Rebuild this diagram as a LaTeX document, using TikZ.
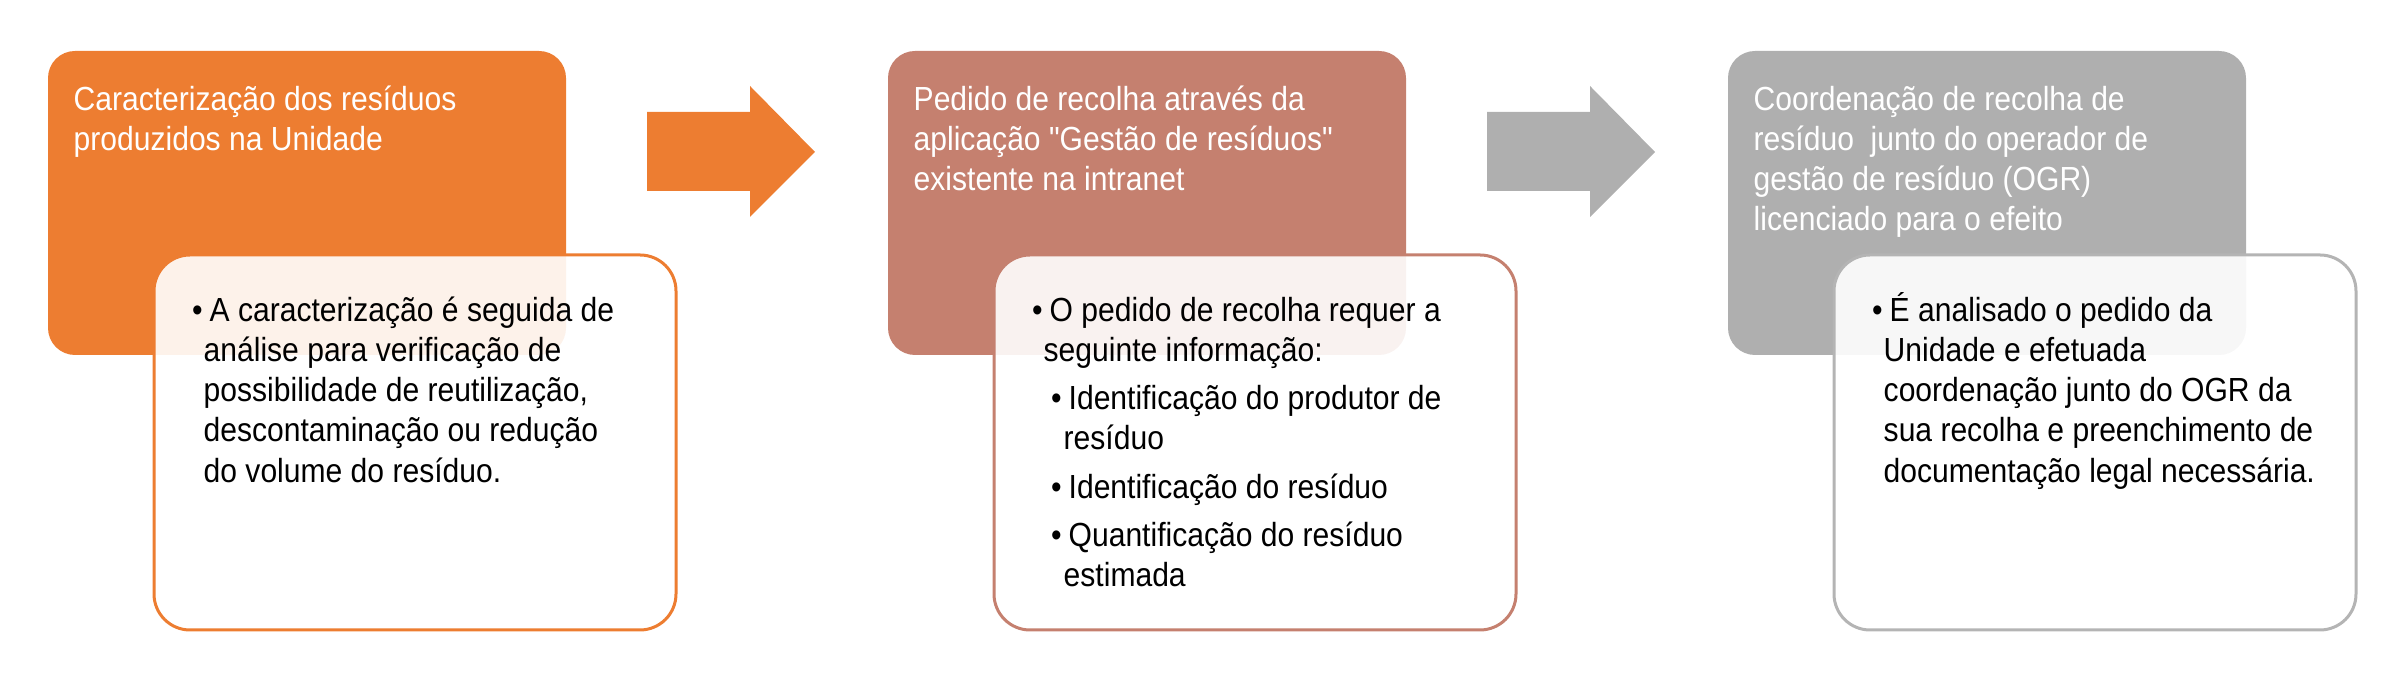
\documentclass[tikz,border=0pt]{standalone}
\usepackage{fontspec}
\setmainfont{Liberation Sans}[FakeStretch=0.9, Ligatures=TeXOff]
\usepackage{xcolor}
\usepackage{tikz}
\usetikzlibrary{positioning}

\definecolor{passoA}{HTML}{ED7D31}
\definecolor{passoB}{HTML}{C5806F}
\definecolor{passoC}{HTML}{AFAFAF}
\definecolor{notaC}{HTML}{B4B4B4}

\newcommand{\alto}{\rule{0pt}{0.32cm}}
\newcommand{\marca}{\llap{\textbullet\hspace{0.01cm}}\hspace*{0.06cm}}

\begin{document}
\begin{tikzpicture}[x=0.01cm, y=-0.01cm,
			titulo/.style={anchor=north west, inner sep=0pt, align=left, text=white,
				font=\fontsize{9.5}{11.4}\selectfont},
			corpo/.style={anchor=north west, inner sep=0pt, align=left, text=black,
				font=\fontsize{9.5}{11.4}\selectfont},
			caixa/.style={rounded corners=0.27cm},
			nota/.style={rounded corners=0.36cm, fill=white, fill opacity=0.9, line width=0.03cm}]

			\useasboundingbox (0,0) rectangle (2399,674);

			\fill[passoA, caixa] (48,51) rectangle (566,355);
			\draw[passoA, nota] (154,255) rectangle (676,630);
			\fill[passoA] (647,112) -- (750,112) -- (750,86) -- (815,152) -- (750,217) -- (750,191) -- (647,191) -- cycle;

			\fill[passoB, caixa] (888,51) rectangle (1406,355);
			\draw[passoB, nota] (994,255) rectangle (1516,630);
			\fill[passoC] (1487,112) -- (1590,112) -- (1590,86) -- (1655,152) -- (1590,217) -- (1590,191) -- (1487,191) -- cycle;

			\fill[passoC, caixa] (1728,51) rectangle (2246,355);
			\draw[notaC, nota] (1834,255) rectangle (2356,630);

			\node[titulo] (t1) at (73,78) {\alto Caracterização dos resíduos\\ produzidos na Unidade};
			\node[titulo] (t2) at (913,78) {\alto Pedido de recolha através da\\ aplicação "Gestão de resíduos"\\ existente na intranet};
			\node[titulo] (t3) at (1753,78) {\alto Coordenação de recolha de\\ resíduo \ junto do operador de\\ gestão de resíduo (OGR)\\ licenciado para o efeito};

			\node[corpo] (c1) at (203,289) {\alto\marca A caracterização é seguida de\\ análise para verificação de\\ possibilidade de reutilização,\\ descontaminação ou redução\\ do volume do resíduo.};
			\node[corpo] (c2) at (1043,289) {\alto\marca O pedido de recolha requer a\\ seguinte informação:\\[0.08cm]
				\hspace*{0.19cm}\marca Identificação do produtor de\\ \hspace*{0.2cm}resíduo\\[0.08cm]
				\hspace*{0.19cm}\marca Identificação do resíduo\\[0.08cm]
				\hspace*{0.19cm}\marca Quantificação do resíduo\\ \hspace*{0.2cm}estimada};
			\node[corpo] (c3) at (1883,289) {\alto\marca É analisado o pedido da\\ Unidade e efetuada\\ coordenação junto do OGR da\\ sua recolha e preenchimento de\\ documentação legal necessária.};
		\end{tikzpicture}
\end{document}
